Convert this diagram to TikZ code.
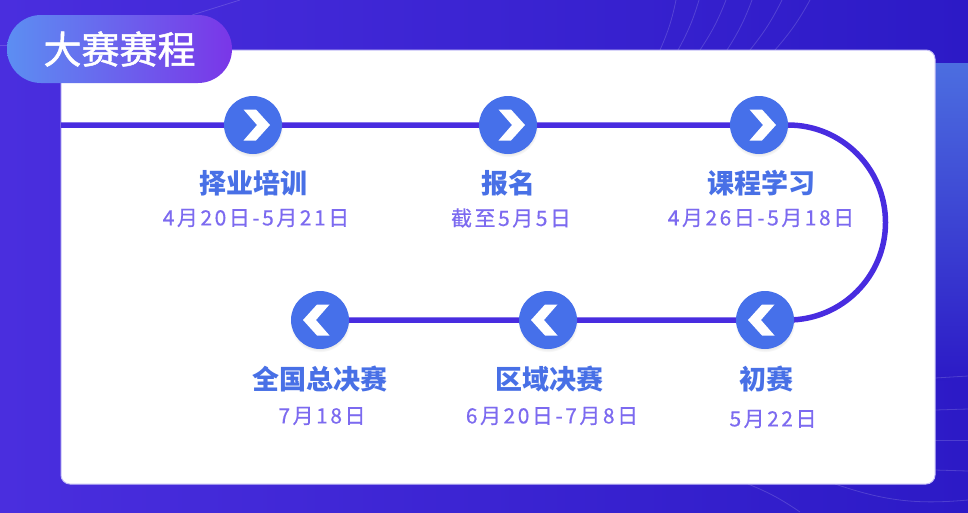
\documentclass[tikz,border=0pt]{standalone}
\usepackage{fontspec}
\newfontfamily\cjk{Noto Sans CJK SC}
\newfontfamily\cjkhead[FakeBold=1.3]{Noto Sans CJK SC}
\newfontfamily\cjkdate[LetterSpace=12,FakeBold=0.4]{Noto Sans CJK SC}
\usetikzlibrary{shadows}
\pgfdeclarelayer{bg}
\pgfdeclarelayer{mid}
\pgfsetlayers{bg,mid,main}
\definecolor{bgL}{RGB}{74,46,222}
\definecolor{bgR}{RGB}{44,26,198}
\definecolor{panelT}{RGB}{76,110,224}
\definecolor{pillL}{RGB}{92,142,242}
\definecolor{pillR}{RGB}{122,54,232}
\definecolor{lineC}{RGB}{72,44,224}
\definecolor{circC}{RGB}{70,112,234}
\definecolor{ttlC}{RGB}{72,112,230}
\definecolor{dtC}{RGB}{124,106,240}
\definecolor{cardEdge}{RGB}{196,190,246}
\tikzset{
  stepc/.style={circle, fill=circC, minimum size=58pt, inner sep=0pt,
    circular drop shadow={shadow xshift=0pt, shadow yshift=-2pt, opacity=0.22, shadow scale=1.04}},
  tl/.style={draw=lineC, line width=5.5pt},
  ttl/.style={text=ttlC, font=\cjk\bfseries\fontsize{27pt}{30pt}\selectfont, inner sep=0pt},
  dt/.style={text=dtC, font=\cjkdate\fontsize{21pt}{24pt}\selectfont, inner sep=0pt},
  faint/.style={draw=white, draw opacity=0.16, line width=0.8pt},
  chevR/.pic={\fill[white] (17,0) -- (3,-15.5) -- (-9.5,-15.5) -- (4,0) -- (-9.5,15.5) -- (3,15.5) -- cycle;},
  chevL/.pic={\fill[white] (-17,0) -- (-3,-15.5) -- (9.5,-15.5) -- (-4,0) -- (9.5,15.5) -- (-3,15.5) -- cycle;}
}
\begin{document}
\begin{tikzpicture}[x=1pt, y=-1pt]
\useasboundingbox (0,0) rectangle (968,512);
\begin{pgfonlayer}{bg}
  \shade[left color=bgL, right color=bgR] (0,0) rectangle (968,512);
  % right lighter panel
  \shade[top color=panelT, bottom color=bgR, rounded corners=8pt] (915,63) rectangle (990,380);
  % faint decorative arcs
  \draw[faint] (660,50) to[bend right=6] (676,0);
  \draw[faint] (678,50) to[bend right=6] (699,0);
  \draw[faint] (700,50) to[bend right=6] (726,0);
  \draw[faint] (727,50) to[bend right=6] (752,0);
  \draw[faint] (750,50) to[bend right=6] (782,0);
  \draw[faint] (775,50) to[bend right=6] (810,0);
  \draw[faint] (192,15) -- (240,0);
  \draw[faint] (0,45) -- (8,45);
  \draw[faint] (748,484) to[bend left=6] (800,512);
  \draw[faint] (835,484) to[bend right=12] (968,500);
  \draw[faint] (935,378) -- (968,376);
  \draw[faint] (935,410) -- (968,409);
  \draw[faint] (935,440) -- (968,440);
  \draw[faint] (935,470) -- (968,471);
  % white card
  \draw[fill=white, draw=cardEdge, line width=1pt, rounded corners=9pt] (61,50) rectangle (935,484);
\end{pgfonlayer}

% header pill
\node[rounded corners=34pt, minimum width=225pt, minimum height=68pt, inner sep=0pt,
      left color=pillL, right color=pillR, text=white,
      font=\cjkhead\fontsize{38pt}{40pt}\selectfont] (hdr) at (119.5,49) {大赛赛程};

% step circles
\node[stepc] (s1) at (253,125) {};
\node[stepc] (s2) at (508,125) {};
\node[stepc] (s3) at (759,125) {};
\node[stepc] (s4) at (765,320) {};
\node[stepc] (s5) at (548,320) {};
\node[stepc] (s6) at (320,320) {};
\pic at (s1) {chevR};
\pic at (s2) {chevR};
\pic at (s3) {chevR};
\pic at (s4) {chevL};
\pic at (s5) {chevL};
\pic at (s6) {chevL};

\coordinate (lstart) at (61,125);
\coordinate (bend) at (788,125);
\begin{pgfonlayer}{mid}
  \draw[tl] (lstart) -- (s1) -- (s2) -- (s3) -- (bend)
    arc[start angle=-90, end angle=90, radius=97.5] -- (s4) -- (s5) -- (s6);
\end{pgfonlayer}

% labels
\node[ttl] (t1) at (253,183) {择业培训};
\node[dt]  (d1) at (256,218) {4月20日-5月21日};
\node[ttl] (t2) at (508,183) {报名};
\node[dt]  (d2) at (511,218) {截至5月5日};
\node[ttl] (t3) at (761,183) {课程学习};
\node[dt]  (d3) at (761,218) {4月26日-5月18日};
\node[ttl] (t4) at (766,379) {初赛};
\node[dt]  (d4) at (773,419) {5月22日};
\node[ttl] (t5) at (549,379) {区域决赛};
\node[dt]  (d5) at (552,416) {6月20日-7月8日};
\node[ttl] (t6) at (320,379) {全国总决赛};
\node[dt]  (d6) at (322,416) {7月18日};
\end{tikzpicture}
\end{document}
